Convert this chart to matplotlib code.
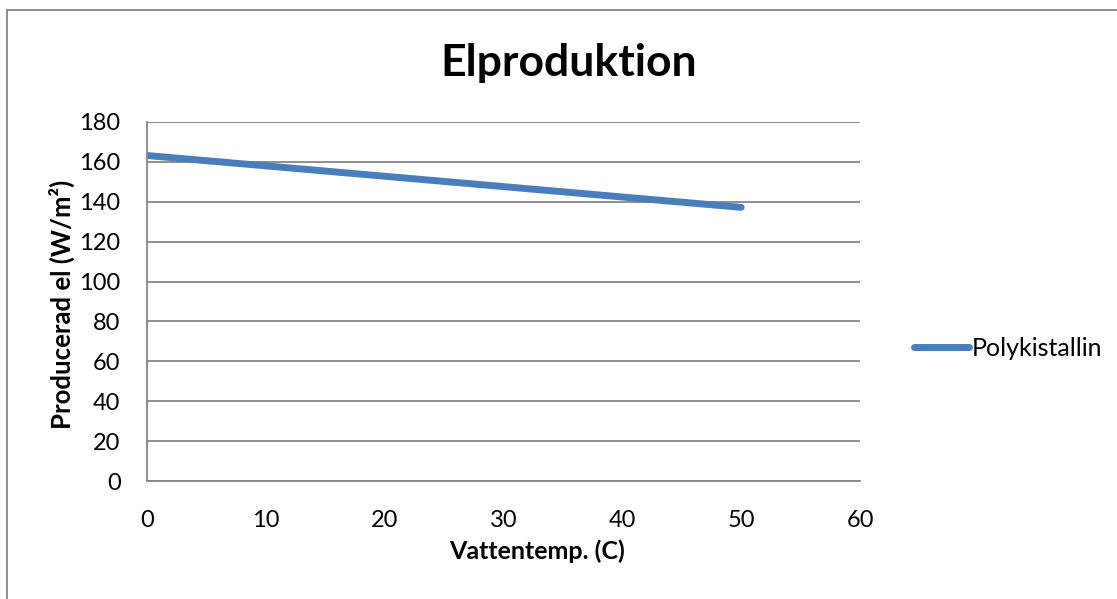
import matplotlib.pyplot as plt
from matplotlib.lines import Line2D

# Produced electricity vs. water temperature
temps = [0, 10, 20, 30, 40, 50]
power = [163.2, 158.0, 152.8, 147.6, 142.4, 137.2]
series_name = "Polykistallin"
x_ticks = [0, 10, 20, 30, 40, 50, 60]
y_ticks = [0, 20, 40, 60, 80, 100, 120, 140, 160, 180]

plt.rcParams['font.family'] = ['Lato', 'DejaVu Sans']

W, H = 1117, 599
fig = plt.figure(figsize=(W / 100, H / 100), dpi=100)
fig.patch.set_facecolor('white')

# chart frame (left and top edges)
fig.add_artist(Line2D([7 / W, 7 / W], [0, 1 - 10 / H], color='#868686', lw=1.3,
                      transform=fig.transFigure))
fig.add_artist(Line2D([7 / W, 1], [1 - 10 / H, 1 - 10 / H], color='#868686', lw=1.3,
                      transform=fig.transFigure))

ax = fig.add_axes([147 / W, 1 - 481 / H, (860 - 147) / W, (481 - 122) / H])
ax.set_xlim(0, 60)
ax.set_ylim(0, 180)
ax.set_xticks(x_ticks)
ax.set_yticks(y_ticks)
ax.tick_params(length=0, labelsize=17, colors='black')
ax.tick_params(axis='y', pad=19)
ax.tick_params(axis='x', pad=21)
ax.grid(axis='y', color='#868686', lw=1.3)
ax.set_axisbelow(True)
for side in ['top', 'right']:
    ax.spines[side].set_visible(False)
for side in ['left', 'bottom']:
    ax.spines[side].set_color('#868686')
    ax.spines[side].set_linewidth(1.3)

line, = ax.plot(temps, power, color='#4a7ebb', lw=5, solid_capstyle='round',
                label=series_name)

fig.text(537 / W, 1 - 551 / H, "Vattentemp. (C)", fontsize=18, fontweight='bold',
         ha='center', va='center')
fig.text(62 / W, 1 - 304 / H, "Producerad el (W/m²)", fontsize=18.5, fontweight='bold',
         ha='center', va='center', rotation=90)
fig.text(569 / W, 1 - 63 / H, "Elproduktion", fontsize=32, fontweight='bold',
         ha='center', va='center')

leg = fig.legend(handles=[line], loc='center left',
                 bbox_to_anchor=(914 / W, 1 - 348 / H), frameon=False,
                 fontsize=18, handlelength=2.2, handletextpad=0.12,
                 borderaxespad=0, borderpad=0)

fig.savefig("out.png", dpi=100, facecolor='white')
